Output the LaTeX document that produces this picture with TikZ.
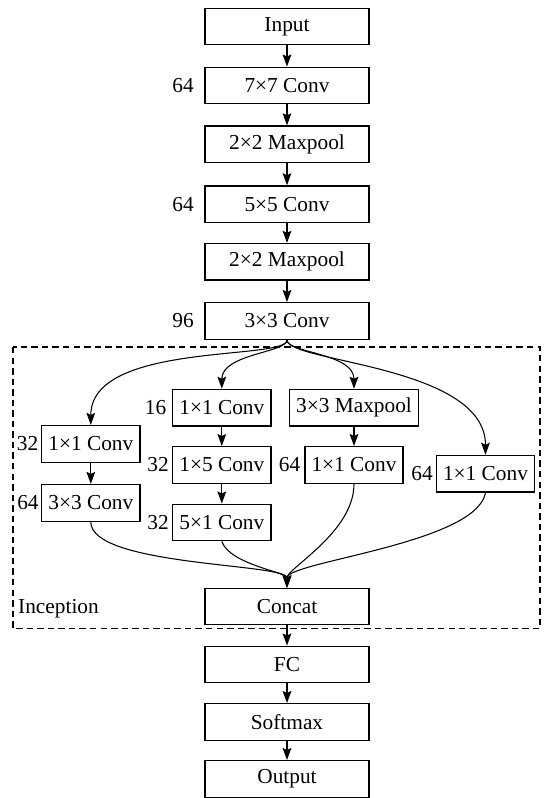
\documentclass[tikz,border=0pt]{standalone}
\usepackage{fontspec}
\setmainfont{Liberation Serif}
\usetikzlibrary{arrows.meta}

\tikzset{
  blok/.style={draw, line width=1.1pt, minimum width=4.92cm, minimum height=1.1cm, inner sep=0pt},
  petit/.style={draw, line width=1.1pt, minimum height=1.1cm, inner xsep=0.2cm, inner ysep=0pt},
  nb/.style={inner sep=0pt},
  fleche/.style={line width=0.9pt, -{Stealth[length=3.6mm,width=2.6mm,inset=0.6mm]}},
}

\begin{document}
\begin{tikzpicture}[x=0.03cm, y=-0.03cm, font=\fontsize{18.2}{20}\selectfont]
\useasboundingbox (0,0) rectangle (546,798);

% Tronc
\node[blok] (input) at (287,26.5) {Input};
\node[blok] (c7) at (287,85.5) {7×7 Conv};
\node[blok] (mp1) at (287,144.3) {2×2 Maxpool};
\node[blok] (c5) at (287,204.2) {5×5 Conv};
\node[blok] (mp2) at (287,261.8) {2×2 Maxpool};
\node[blok] (c3) at (287,321) {3×3 Conv};

\node[nb] (n7) at (183,85.5) {64};
\node[nb] (n5) at (183,204.2) {64};
\node[nb] (n3) at (183,321) {96};

% Inception
\draw[dashed, line width=0.9pt, dash pattern=on 5.5pt off 3.5pt]
(13,347) rectangle (540,628.5);

\node[nb, anchor=base west] (incep) at (18,613) {Inception};

\node[petit] (b1a) at (90.8,443.9) {1×1 Conv};
\node[petit] (b1b) at (90.8,502.9) {3×3 Conv};
\node[petit] (b2a) at (221.8,407.7) {1×1 Conv};
\node[petit] (b2b) at (221.8,465) {1×5 Conv};
\node[petit] (b2c) at (221.8,522.5) {5×1 Conv};
\node[petit] (b3a) at (354,407.7) {3×3 Maxpool};
\node[petit] (b3b) at (354,465) {1×1 Conv};
\node[petit] (b4) at (485.5,473.7) {1×1 Conv};

\node[nb] (m1a) at (27.5,443.9) {32};
\node[nb] (m1b) at (28,502.9) {64};
\node[nb] (m2a) at (155.5,407.7) {16};
\node[nb] (m2b) at (158,465) {32};
\node[nb] (m2c) at (158,522.5) {32};
\node[nb] (m3b) at (289.5,465) {64};
\node[nb] (m4) at (422,473.7) {64};

% Sortie
\node[blok] (concat) at (287,606.5) {Concat};
\node[blok] (fc) at (287,664.5) {FC};
\node[blok] (sm) at (287,722) {Softmax};
\node[blok] (output) at (287,779) {Output};

% Flèches
\foreach \a/\b in {input/c7, mp1/c5, c7/mp1, c5/mp2, mp2/c3,
concat/fc, fc/sm, sm/output,
b1a/b1b, b2a/b2b, b2b/b2c, b3a/b3b}
{
\draw[fleche] (\a) -- (\b);
}

\draw[fleche] (c3.south) to[out=-90,in=90,out looseness=0.25,in looseness=1] (b1a.north);
\draw[fleche] (c3.south) to[out=-90,in=90,out looseness=0.4,in looseness=1.1] (b2a.north);
\draw[fleche] (c3.south) to[out=-90,in=90,out looseness=0.4,in looseness=1.1] (b3a.north);
\draw[fleche] (c3.south) to[out=-90,in=90,out looseness=0.25,in looseness=1] (b4.north);

\draw[fleche] (b1b.south) to[out=-90,in=90,out looseness=0.55,in looseness=0.3] (concat.north);
\draw[fleche] (b2c.south) to[out=-70,in=90,out looseness=0.8,in looseness=0.5] (concat.north);
\draw[fleche] (b3b.south) to[out=-90,in=90,out looseness=1,in looseness=0.4] (concat.north);
\draw[fleche] (b4.south) to[out=-100,in=90,out looseness=0.6,in looseness=0.3] (concat.north);

\end{tikzpicture}
\end{document}
